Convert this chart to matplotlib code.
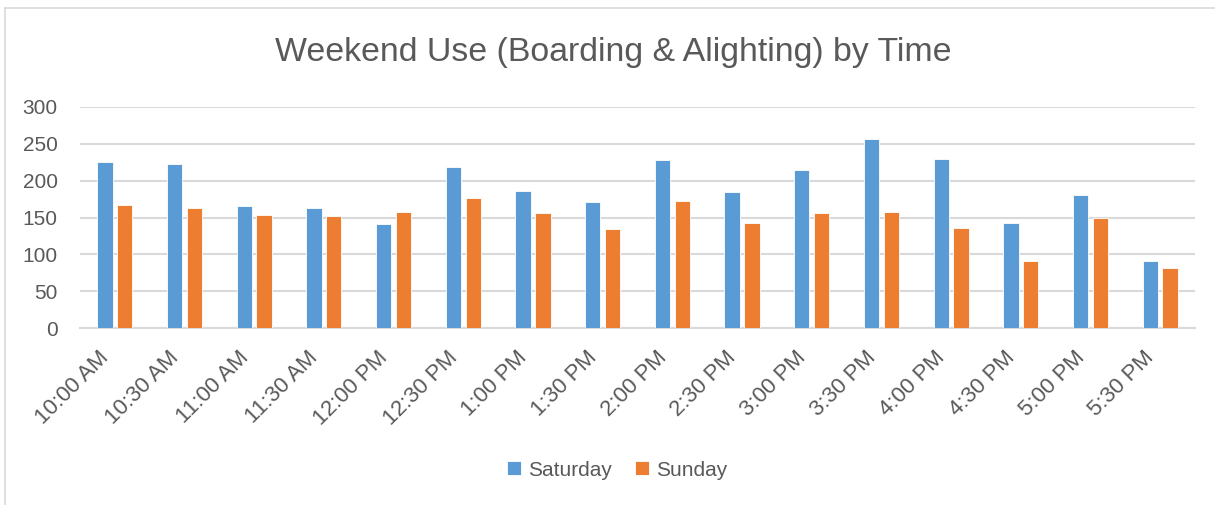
import numpy as np
import matplotlib.pyplot as plt
from matplotlib.lines import Line2D
from matplotlib.transforms import ScaledTranslation

times = ['10:00 AM', '10:30 AM', '11:00 AM', '11:30 AM', '12:00 PM', '12:30 PM',
         '1:00 PM', '1:30 PM', '2:00 PM', '2:30 PM', '3:00 PM', '3:30 PM',
         '4:00 PM', '4:30 PM', '5:00 PM', '5:30 PM']
saturday = [225, 223, 166, 163, 141, 219, 186, 171, 228, 184, 215, 257, 229, 142, 180, 91]
sunday = [167, 163, 154, 152, 157, 176, 156, 135, 173, 143, 156, 157, 136, 91, 150, 81]

txt = '#595959'
plt.rcParams['font.family'] = ['Liberation Sans', 'DejaVu Sans']

fig = plt.figure(figsize=(12.15, 5.05), dpi=100)
ax = fig.add_axes([80 / 1215, 1 - 328 / 505, 1115 / 1215, 221 / 505])

x = np.arange(len(times))
w = 0.22
ax.bar(x - 0.142, saturday, w, color='#5B9BD5', edgecolor='white', linewidth=0.6,
       label='Saturday', zorder=3)
ax.bar(x + 0.142, sunday, w, color='#ED7D31', edgecolor='white', linewidth=0.6,
       label='Sunday', zorder=3)

ax.set_xlim(-0.5, len(times) - 0.5)
ax.set_ylim(0, 300)
ax.set_yticks(range(0, 301, 50))
ax.yaxis.grid(True, color='#D9D9D9', linewidth=1.5, zorder=0)
ax.set_axisbelow(True)
for s in ['top', 'right', 'left']:
    ax.spines[s].set_visible(False)
ax.spines['bottom'].set_color('#D9D9D9')
ax.spines['bottom'].set_linewidth(1.5)
ax.tick_params(length=0, colors=txt, labelsize=15)
ax.tick_params(axis='y', pad=16)
ax.tick_params(axis='x', pad=19, labelsize=16)
ax.set_xticks(x)
ax.set_xticklabels(times, rotation=45, ha='right', va='center', rotation_mode='anchor')
# excel puts the end of each label a little left of the tick
shift = ScaledTranslation(-9 / 100, 0, fig.dpi_scale_trans)
for lab in ax.get_xticklabels():
    lab.set_transform(lab.get_transform() + shift)

fig.text(0.505, 1 - 52 / 505, 'Weekend Use (Boarding & Alighting) by Time',
         ha='center', va='center', fontsize=24.4, color=txt)

fig.legend(loc='center', bbox_to_anchor=(0.508, 1 - 470 / 505), ncol=2, frameon=False,
           fontsize=15, labelcolor=txt, handlelength=0.65, handleheight=0.65,
           handletextpad=0.35, columnspacing=1.1)

fig.add_artist(Line2D([5 / 1215, 1], [1 - 8 / 505, 1 - 8 / 505], color='#D9D9D9', lw=1.2))
fig.add_artist(Line2D([5 / 1215, 5 / 1215], [0, 1 - 8 / 505], color='#D9D9D9', lw=1.2))

fig.savefig('out.png', dpi=100)
